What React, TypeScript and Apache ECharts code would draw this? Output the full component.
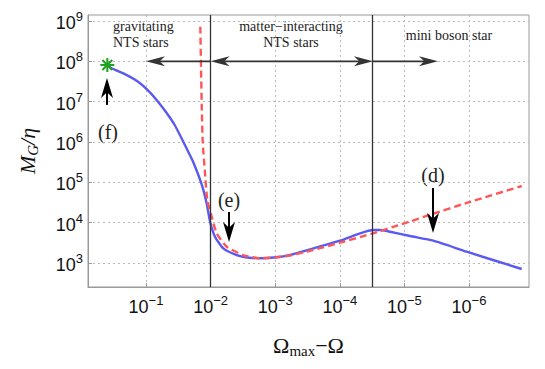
import React, { useEffect, useRef } from "react";
import * as echarts from "echarts";

// log10 of (Ω_max − Ω) tick positions and log10 of M_G/η tick positions
const xTicks = [-1, -2, -3, -4, -5, -6];
const yTicks = [3, 4, 5, 6, 7, 8, 9];

// blue solid curve (log10 x, log10 y)
const blueLogX = [-0.401, -0.458, -0.65, -0.876, -1.05, -1.186, -1.32, -1.444, -1.577, -1.65, -1.732, -1.862, -1.94, -1.991, -2.068, -2.197, -2.404, -2.6, -2.765, -3.023, -3.229, -3.59, -4.003, -4.313, -4.519, -4.622, -4.777, -5.087, -5.447, -5.964, -6.816];
const blueLogY = [7.91, 7.835, 7.7, 7.496, 7.25, 6.999, 6.72, 6.422, 6.008, 5.77, 5.5, 4.95, 4.47, 4.03, 3.652, 3.364, 3.198, 3.13, 3.117, 3.141, 3.198, 3.364, 3.553, 3.736, 3.818, 3.818, 3.776, 3.669, 3.553, 3.28, 2.851];

// red dashed curve (log10 x, log10 y)
const redLogX = [-1.841, -1.852, -1.864, -1.878, -1.913, -1.949, -2.017, -2.094, -2.249, -2.502, -2.765, -3.023, -3.229, -3.585, -4.003, -4.514, -4.932, -5.087, -5.443, -5.964, -6.816];
const redLogY = [8.86, 7.8, 6.8, 6.0, 5.232, 4.562, 4.148, 3.736, 3.404, 3.198, 3.117, 3.141, 3.186, 3.322, 3.503, 3.736, 3.95, 4.03, 4.22, 4.49, 4.909];

// region boundaries (log10 x)
const regionBoundaries = [-2, -4.514];

// region arrows: [x1, y1, x2, y2, bothHeads]
const regionArrows = [
  [-2, 8, -1, 8, 0],
  [-4.514, 8, -2, 8, 1],
  [-4.514, 8, -5.52, 8, 0],
];

// marker arrows: [x1, y1, x2, y2]
const markerArrows = [
  [-0.396, 6.92, -0.396, 7.59],
  [-2.285, 4.265, -2.285, 3.52],
  [-5.443, 4.86, -5.443, 3.744],
];

const starPoint = [-0.401, 7.91];

const regionTexts = ["gravitating\nNTS stars", "matter\u2212interacting\nNTS stars", "mini boson star"];
const markerTexts = ["(f)", "(e)", "(d)"];

const SERIF = "Liberation Serif";
const SANS = "Liberation Sans";

function expLabel(v: number) {
  const e = Math.round(v);
  const s = e < 0 ? "\u2212" + Math.abs(e) : String(e);
  return `{b|10}{s|${s}}`;
}

const tickRich = {
  b: { fontFamily: SANS, fontSize: 18, lineHeight: 22, color: "#111", padding: [4, 0, 0, 0] },
  s: { fontFamily: SANS, fontSize: 13, lineHeight: 13, color: "#111", verticalAlign: "top" as const },
};

function arrowShape(p1: number[], p2: number[], L: number, W: number, lw: number, both: boolean, color: string) {
  const children: any[] = [];
  const dx = p2[0] - p1[0];
  const dy = p2[1] - p1[1];
  const len = Math.sqrt(dx * dx + dy * dy) || 1;
  const ux = dx / len;
  const uy = dy / len;
  const makeHead = (tip: number[], sx: number, sy: number) => {
    const qx = -sy;
    const qy = sx;
    return [
      [tip[0], tip[1]],
      [tip[0] - L * sx + W * qx, tip[1] - L * sy + W * qy],
      [tip[0] - 0.72 * L * sx, tip[1] - 0.72 * L * sy],
      [tip[0] - L * sx - W * qx, tip[1] - L * sy - W * qy],
    ];
  };
  const start = both ? [p1[0] + 0.7 * L * ux, p1[1] + 0.7 * L * uy] : p1;
  const end = [p2[0] - 0.7 * L * ux, p2[1] - 0.7 * L * uy];
  children.push({
    type: "line",
    shape: { x1: start[0], y1: start[1], x2: end[0], y2: end[1] },
    style: { stroke: color, lineWidth: lw },
  });
  children.push({ type: "polygon", shape: { points: makeHead(p2, ux, uy) }, style: { fill: color } });
  if (both) {
    children.push({ type: "polygon", shape: { points: makeHead(p1, -ux, -uy) }, style: { fill: color } });
  }
  return children;
}

export default function App() {
  const ref = useRef<HTMLDivElement>(null);
  useEffect(() => {
    document.body.style.margin = "0";
    if (!ref.current) return;
    const chart = echarts.init(ref.current, undefined, { renderer: "svg" });
    const blue = blueLogX.map((x, i) => [x, blueLogY[i]]);
    const red = redLogX.map((x, i) => [x, redLogY[i]]);

    const textStyle = (size: number) => ({ fontFamily: SERIF, fontSize: size, fill: "#222" });

    const option: any = {
      animation: false,
      backgroundColor: "#fff",
      grid: {
        left: 88,
        right: 16,
        top: 15,
        bottom: 82,
        show: true,
        borderColor: "#999",
        borderWidth: 1,
        outerBoundsMode: "none",
      },
      xAxis: {
        type: "value",
        inverse: true,
        min: -6.929,
        max: -0.102,
        name: "{o|\u03a9}{sub|max}{o|\u2212\u03a9}",
        nameLocation: "middle",
        nameGap: 45,
        nameTextStyle: {
          rich: {
            o: { fontFamily: SERIF, fontSize: 22, lineHeight: 26, color: "#111" },
            sub: { fontFamily: SERIF, fontSize: 15, lineHeight: 15, color: "#111", verticalAlign: "bottom" },
          },
        },
        axisLine: { show: true, onZero: false, lineStyle: { color: "#999", width: 1 } },
        axisTick: { show: true, inside: true, length: 4, customValues: xTicks, lineStyle: { color: "#999" } },
        axisLabel: {
          customValues: xTicks,
          margin: 7,
          fontFamily: SANS,
          fontSize: 18,
          formatter: (v: number) => expLabel(v),
          rich: tickRich,
        },
        splitLine: { show: true, lineStyle: { color: "#bbb", width: 1, type: [2, 3] } },
      },
      yAxis: {
        type: "value",
        min: 2.405,
        max: 9.149,
        name: "{i|M}{sub|G}{i|/\u03b7}",
        nameLocation: "middle",
        nameRotate: 90,
        nameGap: 48,
        nameTextStyle: {
          rich: {
            i: { fontFamily: SERIF, fontStyle: "italic", fontSize: 22, lineHeight: 26, color: "#111" },
            sub: { fontFamily: SERIF, fontStyle: "italic", fontSize: 15, lineHeight: 15, color: "#111", verticalAlign: "bottom" },
          },
        },
        axisLine: { show: true, onZero: false, lineStyle: { color: "#999", width: 1 } },
        axisTick: { show: true, inside: true, length: 4, customValues: yTicks, lineStyle: { color: "#999" } },
        axisLabel: {
          customValues: yTicks,
          margin: 5,
          fontFamily: SANS,
          fontSize: 18,
          formatter: (v: number) => expLabel(v),
          rich: tickRich,
        },
        splitLine: { show: true, lineStyle: { color: "#bbb", width: 1, type: [2, 3] } },
      },
      series: [
        {
          type: "line",
          data: blue,
          showSymbol: false,
          smooth: 0.2,
          lineStyle: { color: "#5a5af2", width: 2.4 },
          z: 3,
          markLine: {
            silent: true,
            symbol: ["none", "none"],
            label: { show: false },
            lineStyle: { color: "#333", width: 1.3, type: "solid" },
            data: regionBoundaries.map((x) => ({ xAxis: x })),
          },
        },
        {
          type: "line",
          data: red,
          showSymbol: false,
          smooth: 0.2,
          lineStyle: { color: "#ff5757", width: 2.4, type: [7, 4] },
          z: 4,
        },
        {
          type: "custom",
          coordinateSystem: "cartesian2d",
          data: regionArrows,
          encode: { x: [0, 2], y: [1, 3] },
          z: 5,
          silent: true,
          renderItem: (_p: any, api: any) => {
            const p1 = api.coord([api.value(0), api.value(1)]);
            const p2 = api.coord([api.value(2), api.value(3)]);
            return { type: "group", children: arrowShape(p1, p2, 19, 5, 1.6, api.value(4) === 1, "#333") };
          },
        },
        {
          type: "custom",
          coordinateSystem: "cartesian2d",
          data: markerArrows,
          encode: { x: [0, 2], y: [1, 3] },
          z: 6,
          silent: true,
          renderItem: (_p: any, api: any) => {
            const p1 = api.coord([api.value(0), api.value(1)]);
            const p2 = api.coord([api.value(2), api.value(3)]);
            return { type: "group", children: arrowShape(p1, p2, 20, 6, 2, false, "#000") };
          },
        },
        {
          type: "custom",
          coordinateSystem: "cartesian2d",
          data: [starPoint],
          z: 7,
          silent: true,
          renderItem: (_p: any, api: any) => {
            const c = api.coord([api.value(0), api.value(1)]);
            const r = 7;
            const children: any[] = [];
            for (let k = 0; k < 4; k++) {
              const a = (k * Math.PI) / 4;
              children.push({
                type: "line",
                shape: { x1: c[0] - r * Math.cos(a), y1: c[1] - r * Math.sin(a), x2: c[0] + r * Math.cos(a), y2: c[1] + r * Math.sin(a) },
                style: { stroke: "#1fa01f", lineWidth: 2 },
              });
            }
            return { type: "group", children };
          },
        },
      ],
      graphic: [
        {
          type: "text",
          x: 113,
          y: 18,
          style: { ...textStyle(14), text: regionTexts[0], lineHeight: 16, align: "left" },
          silent: true,
        },
        {
          type: "text",
          x: 291,
          y: 18,
          style: { ...textStyle(14), text: regionTexts[1], lineHeight: 16, align: "center" },
          silent: true,
        },
        {
          type: "text",
          x: 449,
          y: 27,
          style: { ...textStyle(14), text: regionTexts[2], lineHeight: 16, align: "center" },
          silent: true,
        },
        {
          type: "text",
          x: 108,
          y: 132,
          style: { ...textStyle(20), text: markerTexts[0], align: "center", verticalAlign: "middle" },
          silent: true,
        },
        {
          type: "text",
          x: 229,
          y: 200,
          style: { ...textStyle(20), text: markerTexts[1], align: "center", verticalAlign: "middle" },
          silent: true,
        },
        {
          type: "text",
          x: 433,
          y: 175,
          style: { ...textStyle(20), text: markerTexts[2], align: "center", verticalAlign: "middle" },
          silent: true,
        },
      ],
    };
    chart.setOption(option);
    return () => chart.dispose();
  }, []);
  return <div ref={ref} style={{ width: 545, height: 369 }} />;
}
